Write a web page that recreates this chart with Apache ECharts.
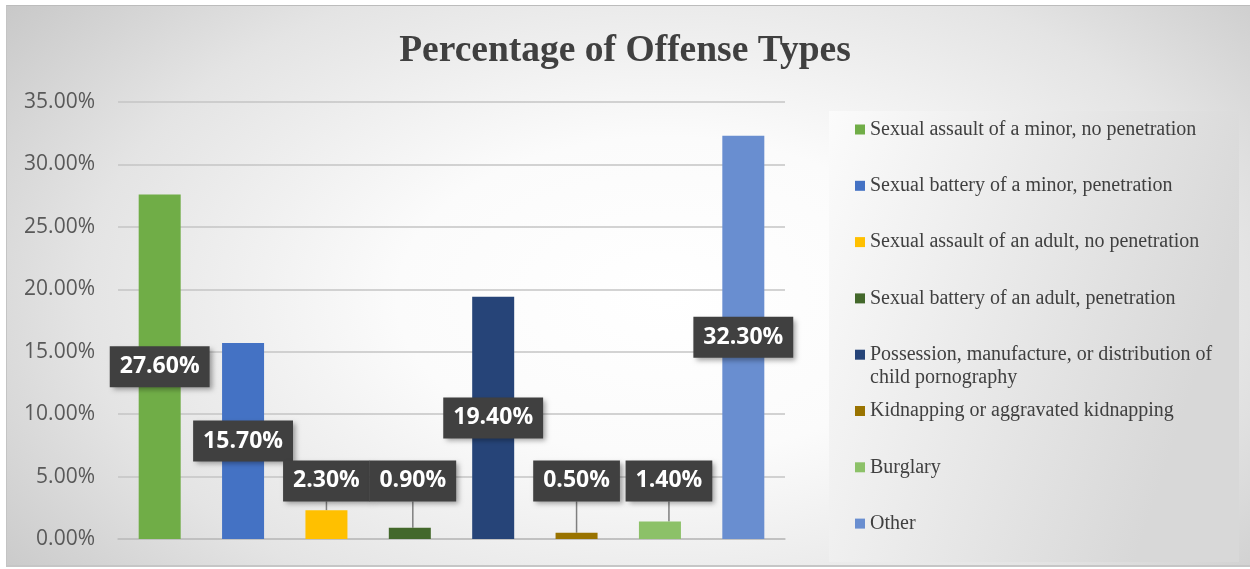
<!DOCTYPE html>
<html>
<head>
<meta charset="utf-8">
<script src="https://cdn.jsdelivr.net/npm/echarts@6/dist/echarts.min.js"></script>
<style>
html,body{margin:0;padding:0;background:#fff;width:1250px;height:569px;overflow:hidden;}
#frame{position:absolute;left:6px;top:5px;width:1244px;height:562px;box-sizing:border-box;
  border-top:1px solid #bcbcbc;border-left:1px solid #c4c4c4;border-bottom:2px solid #c6c6c6;
  background:radial-gradient(ellipse 72% 95% at 53% 52%, #ffffff 0%, #fbfbfb 30%, #e4e4e4 65%, #c0c0c0 100%);}
#chart{position:absolute;left:0;top:0;width:1250px;height:569px;}
</style>
</head>
<body>
<div id="frame"></div>
<div id="chart"></div>
<script>
// ---- data ----
const categories = [
  'Sexual assault of a minor, no penetration',
  'Sexual battery of a minor, penetration',
  'Sexual assault of an adult, no penetration',
  'Sexual battery of an adult, penetration',
  'Possession, manufacture, or distribution of child pornography',
  'Kidnapping or aggravated kidnapping',
  'Burglary',
  'Other'
];
const values = [27.6, 15.7, 2.3, 0.9, 19.4, 0.5, 1.4, 32.3];
const yTicks = { min: 0, max: 35, interval: 5 };
const smallLabelLevel = 4.65; // value level at which small labels sit

// ---- styles ----
const colors = ['#70ad47', '#4472c4', '#ffc000', '#43682b', '#264478', '#997300', '#8cc168', '#698ed0'];
const labelNudge = { 3: 3, 6: 9 };

const chart = echarts.init(document.getElementById('chart'), null, { renderer: 'canvas' });

const labelBox = {
  show: true,
  color: '#ffffff',
  fontFamily: 'Open Sans',
  fontWeight: 'bold',
  fontSize: 23,
  lineHeight: 25,
  backgroundColor: '#404040',
  padding: [8, 10, 8, 10],
  shadowColor: 'rgba(0,0,0,0.35)',
  shadowBlur: 5,
  shadowOffsetX: 3,
  shadowOffsetY: 3,
  formatter: p => p.value.toFixed(2) + '%'
};

const series = categories.map((name, i) => {
  const small = values[i] < 5;
  const s = {
    name: name,
    type: 'bar',
    stack: 'all',
    barWidth: 42,
    data: values.map((v, j) => (j === i ? v : '-')),
    itemStyle: { color: colors[i] },
    label: Object.assign({}, labelBox, { position: small ? 'top' : 'inside' }),
    labelLine: { show: small, lineStyle: { color: '#7f7f7f', width: 1.5 } }
  };
  if (small) {
    s.labelLayout = function (p) {
      const base = p.rect.y + p.rect.height;
      const perUnit = p.rect.height / values[i];
      return {
        x: p.rect.x + p.rect.width / 2,
        y: base - smallLabelLevel * perUnit,
        align: 'center',
        verticalAlign: 'middle',
        dx: labelNudge[i] || 0
      };
    };
  }
  return s;
});

// each legend entry is 3 text lines tall, the name on the middle line,
// so a two-line name keeps its first line beside the icon
function legendText(name) {
  if (name.indexOf(' distribution of ') >= 0) {
    return '\n' + name.replace(' distribution of ', ' distribution of\n');
  }
  return '\n' + name + '\n ';
}

chart.setOption({
  backgroundColor: 'transparent',
  animation: false,
  title: {
    text: 'Percentage of Offense Types',
    left: 'center',
    top: 27,
    textStyle: { fontFamily: 'Liberation Serif', fontWeight: 'bold', fontSize: 37.5, color: '#404040' }
  },
  graphic: [{
    type: 'rect',
    z: -10,
    shape: { x: 829, y: 111, width: 410, height: 451 },
    style: {
      fill: new echarts.graphic.LinearGradient(0, 0, 1, 0.3, [
        { offset: 0, color: '#fbfbfb' },
        { offset: 1, color: '#d8d8d8' }
      ])
    }
  }],
  legend: {
    orient: 'vertical',
    left: 855,
    top: 95,
    padding: 0,
    itemWidth: 10,
    itemHeight: 10,
    itemGap: -12.7,
    icon: 'rect',
    data: categories,
    formatter: legendText,
    textStyle: {
      fontFamily: 'Liberation Serif',
      fontSize: 20,
      lineHeight: 23,
      color: '#404040'
    }
  },
  grid: { left: 118, right: 465, top: 102, bottom: 30, containLabel: false },
  xAxis: {
    type: 'category',
    data: categories,
    axisTick: { show: false },
    axisLabel: { show: false },
    axisLine: { show: true, lineStyle: { color: '#bdbdbd', width: 1.5 } }
  },
  yAxis: {
    type: 'value',
    min: yTicks.min,
    max: yTicks.max,
    interval: yTicks.interval,
    axisLine: { show: false },
    axisTick: { show: false },
    splitLine: { lineStyle: { color: '#c4c4c4', width: 1.5 } },
    axisLabel: {
      margin: 23,
      fontFamily: 'Open Sans',
      fontSize: 21,
      color: '#595959',
      formatter: v => v.toFixed(2) + '%'
    }
  },
  series: series
});
</script>
</body>
</html>
